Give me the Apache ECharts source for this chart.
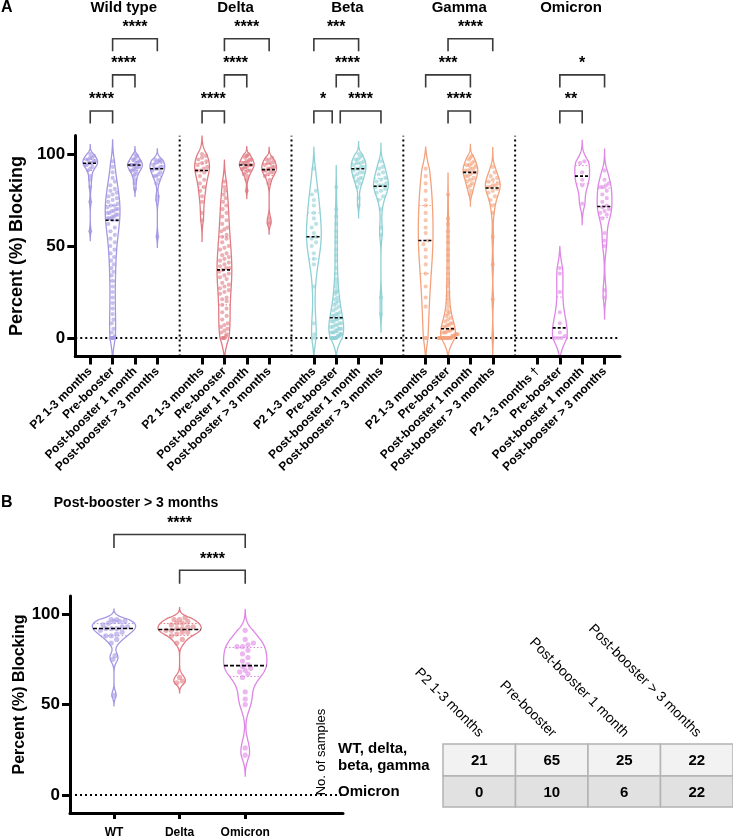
<!DOCTYPE html>
<html><head><meta charset="utf-8">
<script src="https://cdn.jsdelivr.net/npm/echarts@6/dist/echarts.min.js"></script>
<style>html,body{margin:0;padding:0;background:#fff}#c{width:733px;height:839px}</style>
</head><body><div id="c"></div><script>
// ---------- data ----------
const variantNames = ['Wild type', 'Delta', 'Beta', 'Gamma', 'Omicron'];
const timepointLabels = ['P2 1-3 months', 'Pre-booster', 'Post-booster 1 month', 'Post-booster > 3 months'];
const omicronP2Note = ' †';
const variantColors = ['#a596e3', '#e07b83', '#8ed0d5', '#f3a27c', '#df85e6'];

const wtP2 = [100,99,98,98,97,97,96,96,95,95,95,94,94,93,92,91,88,86,82,74,58];
const wtPre = [96,93,90,87,85,83,81,80,79,78,77,76,75,74,73,72,72,71,70,70,69,69,68,68,67,67,66,66,65,65,65,64,64,62,60,58,56,54,52,50,48,46,44,42,40,38,36,34,31,28,25,22,19,16,13,10,8,5,3,1,0,0,0,0,0];
const wtPost1 = [100,99,98,97,97,96,96,95,95,94,94,94,94,93,93,92,92,91,91,90,89,88,86,84,81];
const wtPost3 = [97,97,96,96,96,95,94,93,93,92,92,92,91,90,89,88,88,86,84,77,75,55];

const deltaP2 = [100,99,98,97,96,95,94,93,92,91,91,90,88,86,84,82,80,77,74,68,64];
const deltaPre = [85,82,80,78,76,74,72,70,68,66,64,62,60,59,58,56,55,54,52,50,49,48,46,45,44,43,42,41,40,39,38,38,37,36,35,34,33,32,30,29,28,27,26,25,24,22,21,20,18,16,14,12,10,8,7,6,5,4,3,2,1,0,0,0,0];
const deltaPost1 = [100,99,99,98,97,97,96,96,95,95,95,94,94,94,93,93,92,92,91,91,90,89,88,86,80];
const deltaPost3 = [98,97,97,96,95,95,94,93,93,92,92,91,91,90,90,89,88,86,84,65,63,62];

const betaP2 = [92,80,78,75,72,68,65,62,60,57,55,54,52,50,46,43,40,28,8,2,0];
const betaPre = [82,70,66,62,58,55,52,48,45,42,38,35,32,30,28,26,25,24,22,21,20,19,18,17,16,15,14,13,13,12,12,11,11,10,10,9,9,8,8,7,7,6,6,5,5,5,4,4,3,3,3,2,2,2,1,1,1,0,0,0,0,0,0,0,0];
const betaPost1 = [100,99,98,97,97,96,95,95,94,93,93,92,92,91,90,90,89,88,87,86,85,84,82,76,72];
const betaPost3 = [96,93,92,90,89,87,86,85,84,83,83,82,81,80,79,77,75,70,60,56,22,13];

const gammaP2 = [92,88,84,80,75,72,68,64,60,57,53,51,48,44,40,35,28,22,17,0,0];
const gammaPre = [78,65,62,58,55,52,48,45,42,38,35,32,30,28,25,23,21,19,17,15,14,13,12,11,10,9,8,8,7,7,6,6,5,5,4,4,4,3,3,3,2,2,2,2,1,1,1,1,0,0,0,0,0,0,0,0,0,0,0,0,0,0,0,0,0];
const gammaPost1 = [99,98,97,96,95,94,94,93,92,92,91,91,90,90,89,88,88,87,86,85,84,83,82,80,78];
const gammaPost3 = [93,90,88,87,86,85,84,83,83,82,82,81,80,79,77,75,72,68,55,40,21,0];

const omicronP2 = [];
const omicronPre = [38,35,25,14,8,3,1,0,0,0];
const omicronPost1 = [96,95,90,86,83,73];
const omicronPost3 = [91,86,84,83,82,82,80,78,76,74,72,71,70,69,68,67,65,57,53,50,26,22];

// significance brackets, panel A: [variant, fromTimepoint, toTimepoint, level, label]
const sigA = [
  [0,0,1,1,'****'],[0,1,2,2,'****'],[0,1,3,3,'****'],
  [1,0,1,1,'****'],[1,1,2,2,'****'],[1,1,3,3,'****'],
  [2,0,1,1,'*'],[2,1,3,1,'****'],[2,1,2,2,'****'],[2,0,2,3,'***'],
  [3,1,2,1,'****'],[3,0,2,2,'***'],[3,1,3,3,'****'],
  [4,1,2,1,'**'],[4,1,3,2,'*']
];
// panel B
const panelBTitle = 'Post-booster > 3 months';
const panelBCategories = ['WT', 'Delta', 'Omicron'];
const sigB = [[0,2,2,'****'],[1,2,1,'****']];

// sample-count table
const tableTitle = 'No. of samples';
const tableRowLabels = ['WT, delta,\nbeta, gamma', 'Omicron'];
const tableCountsWT = [21, 65, 25, 22];
const tableCountsOmicron = [0, 10, 6, 22];

// ---------- helpers ----------
const FONT = '"Liberation Sans", Arial, Helvetica, sans-serif';
function makeViolin(values, x, color) {
  const s = values.slice().sort((a, b) => a - b);
  const n = s.length;
  const mean = s.reduce((a, b) => a + b, 0) / n;
  const sd = n > 1 ? Math.sqrt(s.reduce((a, b) => a + (b - mean) * (b - mean), 0) / (n - 1)) : 1;
  const q = p => { const pos = (n - 1) * p, lo = Math.floor(pos), hi = Math.ceil(pos); return s[lo] + (s[hi] - s[lo]) * (pos - lo); };
  const iqr = q(0.75) - q(0.25);
  let spread = Math.min(sd, iqr / 1.34); if (!(spread > 0)) spread = sd > 0 ? sd : 5;
  const h = Math.max(0.9 * spread * Math.pow(n, -0.2), 1.5);
  const ext = Math.min(2.5 * h, 12);
  const lo = s[0] - ext, hi = s[n - 1] + ext, steps = 160;
  const ys = [], ds = []; let dmax = 0;
  for (let i = 0; i <= steps; i++) {
    const y = lo + (hi - lo) * i / steps; let d = 0;
    for (const v of s) { const z = (y - v) / h; d += Math.exp(-0.5 * z * z); }
    const taper = Math.min(1, (y - lo) / ext, (hi - y) / ext);
    d *= Math.max(0, taper);
    ys.push(y); ds.push(d); if (d > dmax) dmax = d;
  }
  for (let i = 0; i <= steps; i++) ds[i] /= dmax;
  return { x, color, sorted: s, ys, ds, median: q(0.5), q1: q(0.25), q3: q(0.75) };
}
function widthAt(v, y) {
  const L = v.ys.length - 1;
  if (y <= v.ys[0] || y >= v.ys[L]) return 0;
  const t = (y - v.ys[0]) / (v.ys[L] - v.ys[0]) * L; const i = Math.floor(t);
  return v.ds[i] + (v.ds[Math.min(i + 1, L)] - v.ds[i]) * (t - i);
}
function violinRenderer(list, maxHalf, dotR, dash) {
  return function (params, api) {
    const v = list[api.value(2)];
    const cx = api.coord([v.x, 0])[0];
    const hw = api.size([maxHalf, 0])[0];
    const py = val => api.coord([v.x, val])[1];
    const right = [], left = [];
    for (let i = 0; i < v.ys.length; i++) { const y = py(v.ys[i]); right.push([cx + v.ds[i] * hw, y]); left.push([cx - v.ds[i] * hw, y]); }
    const children = [{ type: 'polygon', shape: { points: right.concat(left.reverse()) }, style: { fill: '#fff', stroke: v.color, lineWidth: 1.3 } }];
    [v.q1, v.q3].forEach(qv => {
      const w = widthAt(v, qv) * hw, y = py(qv);
      children.push({ type: 'line', shape: { x1: cx - w, y1: y, x2: cx + w, y2: y }, style: { stroke: v.color, lineWidth: 1, lineDash: [1.5, 2] } });
    });
    // beeswarm of points
    const pys = v.sorted.map(py);
    const d = dotR * 2; const bins = []; let cur = null;
    for (let i = 0; i < pys.length; i++) {
      if (!cur || Math.abs(pys[i] - cur.start) > d * 0.9) { cur = { start: pys[i], idx: [] }; bins.push(cur); }
      cur.idx.push(i);
    }
    bins.forEach(b => {
      const k = b.idx.length;
      const mid = v.sorted[b.idx[Math.floor(k / 2)]];
      const w = Math.max(widthAt(v, mid) * hw, dotR);
      let sp = d * 1.05;
      if (k > 1 && (k - 1) * sp > 2 * w - d) sp = Math.max((2 * w - d) / (k - 1), 0.8);
      b.idx.forEach((ii, j) => {
        children.push({ type: 'circle', shape: { cx: cx + (j - (k - 1) / 2) * sp, cy: pys[ii], r: dotR }, style: { fill: v.color, opacity: 0.6 } });
      });
    });
    const wm = widthAt(v, v.median) * hw, ym = py(v.median);
    children.push({ type: 'line', shape: { x1: cx - wm, y1: ym, x2: cx + wm, y2: ym }, style: { stroke: '#000', lineWidth: 1.6, lineDash: dash } });
    return { type: 'group', children };
  };
}
function guideRenderer(xmin, xmax, ymin, ymax, separators) {
  return function (params, api) {
    const st = { stroke: '#000', lineWidth: 2, lineDash: [2, 3] };
    const a = api.coord([xmin, 0]), b = api.coord([xmax, 0]);
    const children = [{ type: 'line', shape: { x1: a[0], y1: a[1], x2: b[0], y2: b[1] }, style: st }];
    separators.forEach(sx => {
      const p = api.coord([sx, ymin]), q = api.coord([sx, ymax]);
      children.push({ type: 'line', shape: { x1: p[0], y1: p[1], x2: q[0], y2: q[1] }, style: st });
    });
    return { type: 'group', children };
  };
}
function bracketRenderer(list, base, step, legPx, starPx, fontPx) {
  return function (params, api) {
    const b = list[api.value(2)];
    const x1 = b.x1, x2 = b.x2;
    const yv = base + (b.level - 1) * step;
    const p1 = api.coord([x1, yv]), p2 = api.coord([x2, yv]);
    return { type: 'group', children: [
      { type: 'polyline', shape: { points: [[p1[0], p1[1] + legPx], [p1[0], p1[1]], [p2[0], p2[1]], [p2[0], p2[1] + legPx]] }, style: { stroke: '#3a3a3a', lineWidth: 1.6, fill: null } },
      { type: 'text', style: { text: b.label, x: (p1[0] + p2[0]) / 2, y: p1[1] - starPx, font: 'bold ' + fontPx + 'px ' + FONT, fill: '#000', align: 'center', verticalAlign: 'middle', textAlign: 'center', textVerticalAlign: 'middle' } }
    ] };
  };
}

// ---------- build ----------
const dataA = [
  [wtP2, wtPre, wtPost1, wtPost3],
  [deltaP2, deltaPre, deltaPost1, deltaPost3],
  [betaP2, betaPre, betaPost1, betaPost3],
  [gammaP2, gammaPre, gammaPost1, gammaPost3],
  [omicronP2, omicronPre, omicronPost1, omicronPost3]
];
const violinsA = [];
dataA.forEach((arr, g) => arr.forEach((vals, t) => { if (vals.length) violinsA.push(makeViolin(vals, g * 5 + t, variantColors[g])); }));
const violinsB = [makeViolin(wtPost3, 0, variantColors[0]), makeViolin(deltaPost3, 1, variantColors[1]), makeViolin(omicronPost3, 2, variantColors[4])];

const tickSlotsA = [];
variantNames.forEach((n, g) => timepointLabels.forEach((t, i) => tickSlotsA.push(g * 5 + i)));
const separatorsA = [1, 2, 3, 4].map(g => g * 5 - 1);

const bracketsA = sigA.map(s => {
  const g = s[0];
  let x1 = g * 5 + s[1], x2 = g * 5 + s[2];
  const others = sigA.filter(o => o !== s && o[0] === g && o[3] === s[3]);
  if (others.some(o => o[1] === s[1] || o[2] === s[1])) x1 += 0.18;
  if (others.some(o => o[1] === s[2] || o[2] === s[2])) x2 -= 0.18;
  return { x1, x2, level: s[3], label: s[4] };
});
const bracketsB = sigB.map(s => ({ x1: s[0], x2: s[1], level: s[2], label: s[3] }));

const X_MIN_A = -0.67, X_MAX_A = 23.69;
const X_MIN_B = -0.67, X_MAX_B = 3.49;

const axisLine = { show: true, onZero: false, lineStyle: { color: '#000', width: 3 } };
const yAxisBase = (gi, nameSize, gap, pad) => ({
  gridIndex: gi, type: 'value', min: -10, max: 110, z: 10,
  name: 'Percent (%) Blocking', nameLocation: 'middle', nameGap: gap,
  nameTextStyle: { fontSize: nameSize, fontWeight: 'bold', color: '#000', fontFamily: FONT, padding: pad },
  axisLine: axisLine,
  axisTick: { show: true, customValues: [0, 50, 100], length: 8, lineStyle: { width: 3, color: '#000' } },
  axisLabel: { customValues: [0, 50, 100], fontSize: 17, fontWeight: 'bold', color: '#000', margin: 10, fontFamily: FONT },
  splitLine: { show: false }
});

const chart = echarts.init(document.getElementById('c'));
chart.setOption({
  animation: false,
  backgroundColor: '#fff',
  grid: [
    { left: 72, top: 135.6, width: 548, height: 220.8 },
    { left: 70, top: 596, width: 273, height: 218.4 }
  ],
  xAxis: [
    { gridIndex: 0, type: 'value', min: X_MIN_A, max: X_MAX_A, z: 10, splitLine: { show: false }, axisLine: axisLine,
      axisTick: { show: true, customValues: tickSlotsA, length: 8, lineStyle: { width: 3, color: '#000' } },
      axisLabel: { customValues: tickSlotsA, rotate: 45, margin: 13, fontSize: 12, fontWeight: 'bold', color: '#000', fontFamily: FONT,
        formatter: v => { const s = Math.round(v), g = Math.floor(s / 5), t = s % 5; return timepointLabels[t] + (g === 4 && t === 0 ? omicronP2Note : ''); } } },
    { gridIndex: 1, type: 'value', min: X_MIN_B, max: X_MAX_B, z: 10, splitLine: { show: false }, axisLine: axisLine,
      axisTick: { show: true, customValues: [0, 1, 2], length: 6, lineStyle: { width: 3, color: '#000' } },
      axisLabel: { customValues: [0, 1, 2], margin: 14, fontSize: 12, fontWeight: 'bold', color: '#000', fontFamily: FONT,
        formatter: v => panelBCategories[Math.round(v)] } }
  ],
  yAxis: [yAxisBase(0, 18, 47, [0, 0, 0, 0]), yAxisBase(1, 16, 38, [0, 0, 0, 20])],
  series: [
    { type: 'custom', xAxisIndex: 0, yAxisIndex: 0, z: 1, clip: true, silent: true, data: [[0, 0, 0]], encode: { x: 0, y: 1 },
      renderItem: guideRenderer(X_MIN_A, X_MAX_A, -10, 110, separatorsA) },
    { type: 'custom', xAxisIndex: 0, yAxisIndex: 0, z: 2, clip: true, silent: true,
      data: violinsA.map((v, i) => [v.x, 50, i]), encode: { x: 0, y: 1 },
      renderItem: violinRenderer(violinsA, 0.33, 2.1, [3, 2]) },
    { type: 'custom', xAxisIndex: 0, yAxisIndex: 0, z: 3, clip: false, silent: true,
      data: bracketsA.map((b, i) => [b.x1, 50, i]), encode: { x: 0, y: 1 },
      renderItem: bracketRenderer(bracketsA, 123.4, 19.6, 12.5, 11, 16) },
    { type: 'custom', xAxisIndex: 1, yAxisIndex: 1, z: 1, clip: true, silent: true, data: [[0, 0, 0]], encode: { x: 0, y: 1 },
      renderItem: guideRenderer(X_MIN_B, X_MAX_B, -10, 110, []) },
    { type: 'custom', xAxisIndex: 1, yAxisIndex: 1, z: 2, clip: true, silent: true,
      data: violinsB.map((v, i) => [v.x, 50, i]), encode: { x: 0, y: 1 },
      renderItem: violinRenderer(violinsB, 0.33, 2.6, [4, 2]) },
    { type: 'custom', xAxisIndex: 1, yAxisIndex: 1, z: 3, clip: false, silent: true,
      data: bracketsB.map((b, i) => [b.x1, 50, i]), encode: { x: 0, y: 1 },
      renderItem: bracketRenderer(bracketsB, 124.2, 19.8, 13.5, 11, 16) }
  ]
});

// ---------- text / table graphics ----------
const txt = (x, y, text, font, align, valign, extra) => Object.assign({ type: 'text', x, y, silent: true,
  style: { text, font, fill: '#000', align, verticalAlign: valign, textAlign: align, textVerticalAlign: valign } }, extra || {});
const graphics = [];
graphics.push(txt(1, 8, 'A', 'bold 16px ' + FONT, 'left', 'middle'));
graphics.push(txt(1, 503, 'B', 'bold 16px ' + FONT, 'left', 'middle'));
variantNames.forEach((name, g) => {
  const px = chart.convertToPixel({ xAxisIndex: 0 }, g * 5 + 1.5);
  graphics.push(txt(px, 8, name, 'bold 15px ' + FONT, 'center', 'middle'));
});
graphics.push(txt(136, 503, panelBTitle, 'bold 14px ' + FONT, 'center', 'middle'));

const tblLeft = 443, tblTop = 744, colW = 72.5, rowH = [32, 31];
const rowFill = ['#f2f2f2', '#e1e1e1'];
[tableCountsWT, tableCountsOmicron].forEach((row, r) => {
  const y0 = tblTop + (r ? rowH[0] : 0);
  row.forEach((val, c) => {
    const x0 = tblLeft + c * colW;
    graphics.push({ type: 'rect', silent: true, shape: { x: x0, y: y0, width: colW, height: rowH[r] }, style: { fill: rowFill[r], stroke: '#b3b3b3', lineWidth: 1.5 } });
    graphics.push(txt(x0 + colW / 2, y0 + rowH[r] / 2 + 1, String(val), 'bold 15px ' + FONT, 'center', 'middle'));
  });
});
timepointLabels.forEach((lab, c) => {
  const cx = tblLeft + c * colW + colW / 2;
  graphics.push(txt(cx + 2, 735, lab, '14px ' + FONT, 'right', 'middle', { rotation: -Math.PI / 4 }));
});
graphics.push(txt(338, 757, tableRowLabels[0], 'bold 15px ' + FONT, 'left', 'middle', { style: { text: tableRowLabels[0], font: 'bold 15px ' + FONT, fill: '#000', align: 'left', verticalAlign: 'middle', lineHeight: 17 } }));
graphics.push(txt(338, 792, tableRowLabels[1], 'bold 15px ' + FONT, 'left', 'middle'));
graphics.push(txt(321, 752, tableTitle, '13px ' + FONT, 'center', 'middle', { rotation: Math.PI / 2 }));
chart.setOption({ graphic: graphics });
</script></body></html>
